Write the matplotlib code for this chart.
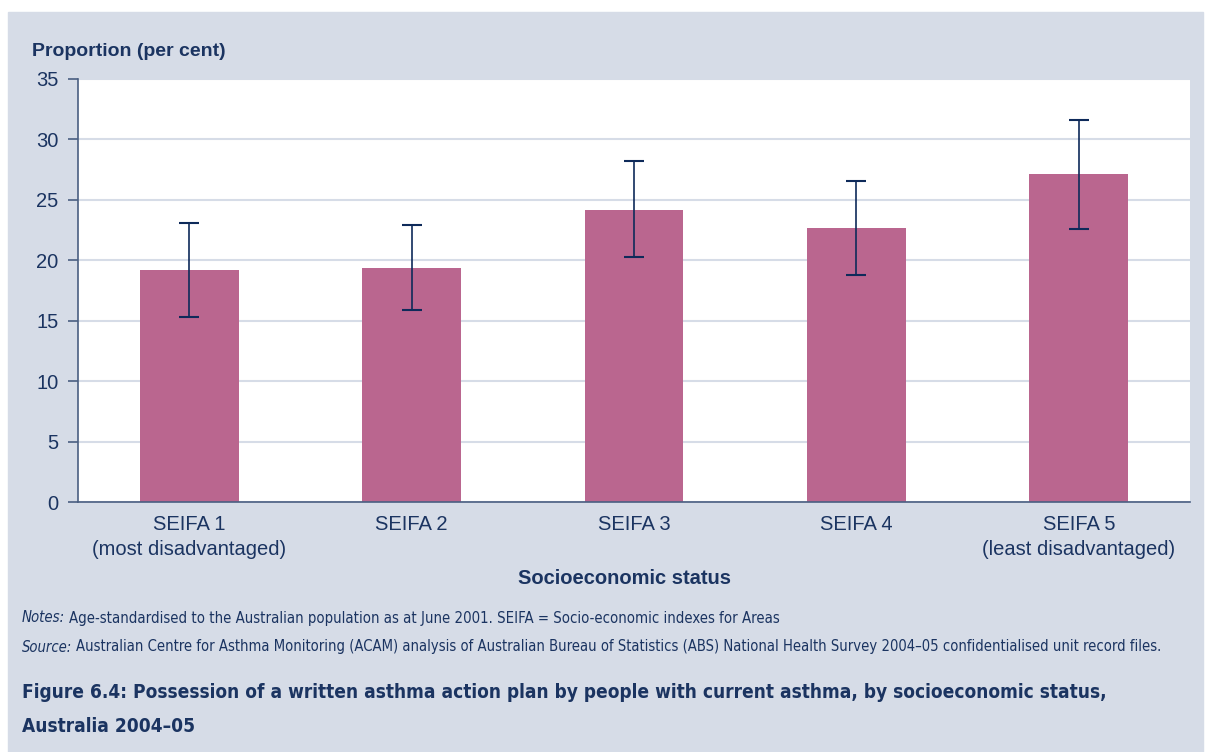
import numpy as np
import matplotlib
matplotlib.use("Agg")
from matplotlib import pyplot as plt
from matplotlib.patches import Rectangle

categories = ["SEIFA 1\n(most disadvantaged)", "SEIFA 2", "SEIFA 3", "SEIFA 4",
              "SEIFA 5\n(least disadvantaged)"]
values = [19.2, 19.4, 24.2, 22.7, 27.1]
err_low = [15.3, 15.9, 20.3, 18.8, 22.6]
err_high = [23.1, 22.9, 28.2, 26.6, 31.6]

navy = "#1B3461"
bar_color = "#BA668F"
panel = "#D6DCE7"

plt.rcParams["font.family"] = ["Liberation Sans", "DejaVu Sans"]

fig = plt.figure(figsize=(12.05, 7.52), dpi=100)
fig.patches.append(Rectangle((8 / 1205, 0), 1195 / 1205, 1 - 12 / 752,
                             transform=fig.transFigure, color=panel, zorder=-10))

ax = fig.add_axes([78 / 1205, 1 - 502 / 752, (1190 - 78) / 1205, (502 - 79) / 752])
x = np.arange(len(values))
yerr = [np.array(values) - np.array(err_low), np.array(err_high) - np.array(values)]
ax.bar(x, values, width=0.445, color=bar_color, zorder=2)
ax.errorbar(x, values, yerr=yerr, fmt="none", ecolor="#0E2A5A", elinewidth=1.2,
            capsize=7.5, capthick=1.5, zorder=3)

ax.set_xlim(-0.5, 4.5)
ax.set_ylim(0, 35)
ax.set_yticks(range(0, 36, 5))
ax.grid(axis="y", color=panel, linewidth=1.5, zorder=0)
ax.set_axisbelow(True)
for s in ["top", "right"]:
    ax.spines[s].set_visible(False)
for s in ["left", "bottom"]:
    ax.spines[s].set_color("#4A5F82")
    ax.spines[s].set_linewidth(1.2)
ax.tick_params(axis="y", colors="#4A5F82", labelcolor=navy, labelsize=14.5,
               length=7, width=1.2, pad=7)
ax.set_xticks(x)
ax.set_xticklabels(categories, color=navy, fontsize=14.5, linespacing=1.45)
ax.tick_params(axis="x", length=0, pad=9)

fig.text(32 / 1205, 1 - 51 / 752, "Proportion (per cent)", fontsize=14,
         fontweight="bold", color=navy, va="center", ha="left")
fig.text(625 / 1205, 1 - 578 / 752, "Socioeconomic status", fontsize=14.5,
         fontweight="bold", color=navy, va="center", ha="center")

fig.canvas.draw()
renderer = fig.canvas.get_renderer()
cond = dict(family=["DejaVu Sans"], fontstretch="condensed")


def fitted(y, parts, right, bold=False):
    # parts: list of (text, italic); scale size so the line ends at `right`
    size = 10.0
    for _ in range(3):
        xpos = 22
        objs = []
        for txt, it in parts:
            t = fig.text(xpos / 1205, 1 - y / 752, txt, fontsize=size,
                         style="italic" if it else "normal",
                         fontweight="bold" if bold else "normal",
                         color=navy, va="center", ha="left", **cond)
            bb = t.get_window_extent(renderer)
            xpos = bb.x1 + size * 0.35
            objs.append(t)
        end = bb.x1
        for t in objs:
            t.remove()
        size = size * (right - 22) / (end - 22)
    xpos = 22
    for txt, it in parts:
        t = fig.text(xpos / 1205, 1 - y / 752, txt, fontsize=size,
                     style="italic" if it else "normal",
                     fontweight="bold" if bold else "normal",
                     color=navy, va="center", ha="left", **cond)
        xpos = t.get_window_extent(renderer).x1 + size * 0.35
    return size


fitted(618, [("Notes:", True),
             ("Age-standardised to the Australian population as at June 2001. SEIFA = Socio-economic indexes for Areas", False)],
       774)
fitted(647, [("Source:", True),
             ("Australian Centre for Asthma Monitoring (ACAM) analysis of Australian Bureau of Statistics (ABS) National Health Survey 2004\u201305 confidentialised unit record files.", False)],
       1165)
ts = fitted(693, [("Figure 6.4: Possession of a written asthma action plan by people with current asthma, by socioeconomic status,", False)],
            1110, bold=True)
fig.text(22 / 1205, 1 - 727 / 752, "Australia 2004\u201305", fontsize=ts,
         fontweight="bold", color=navy, va="center", ha="left", **cond)

fig.savefig("out.png", dpi=100)
